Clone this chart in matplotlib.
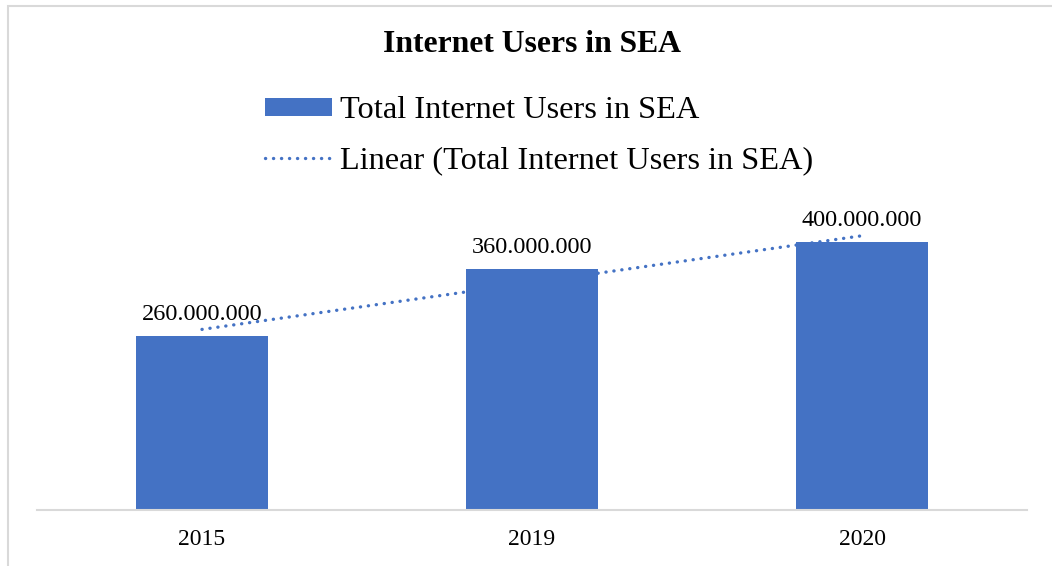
import numpy as np
import matplotlib.pyplot as plt
from matplotlib.patches import Rectangle

years = ['2015', '2019', '2020']
users = [260000000, 360000000, 400000000]
labels = ['260.000.000', '360.000.000', '400.000.000']

blue = '#4472C4'
plt.rcParams['font.family'] = ['Liberation Serif', 'DejaVu Serif']

fig = plt.figure(figsize=(10.52, 5.66), dpi=100)
ax = fig.add_axes([37/1052, 1-510/566, 990/1052, 301/566])

x = np.arange(len(years))
vals = np.array(users) / 1e6
bars = ax.bar(x, vals, width=0.4, color=blue, label='Total Internet Users in SEA', zorder=2)

# linear trendline over category index 1..n like excel
xi = x + 1
k, c = np.polyfit(xi, vals, 1)
trend, = ax.plot(x, k*xi + c, color=blue, lw=2.4, dash_capstyle='round',
                 label='Linear (Total Internet Users in SEA)', zorder=3)
trend.set_dashes((0.05, 2.35))

for xx, v, t in zip(x, vals, labels):
    ax.annotate(t, (xx, v), xytext=(0, 8), textcoords='offset points',
                ha='center', va='bottom', fontsize=17.5)

ax.set_xlim(-0.5, 2.5)
ax.set_ylim(0, 450)
ax.set_xticks(x)
ax.set_xticklabels(years, fontsize=17)
ax.tick_params(axis='x', length=0, pad=14)
ax.set_yticks([])
for s in ['top', 'right', 'left']:
    ax.spines[s].set_visible(False)
ax.spines['bottom'].set_color('#d9d9d9')
ax.spines['bottom'].set_linewidth(1.5)

fig.text(532/1052, 1-45/566, 'Internet Users in SEA', ha='center', va='center',
         fontsize=22.8, fontweight='bold')

leg = fig.legend(handles=[bars, trend], loc='upper left', bbox_to_anchor=(249/1052, 1-80/566),
                 frameon=False, fontsize=23.3, handlelength=2.07, handleheight=0.48,
                 handletextpad=0.25, labelspacing=0.65, borderpad=0)

fig.patches.append(Rectangle((7.5/1052, -0.1), 1.2, 1-5.5/566+0.1, transform=fig.transFigure,
                             fill=False, edgecolor='#d9d9d9', lw=1.5))

fig.savefig('out.png', dpi=100)
